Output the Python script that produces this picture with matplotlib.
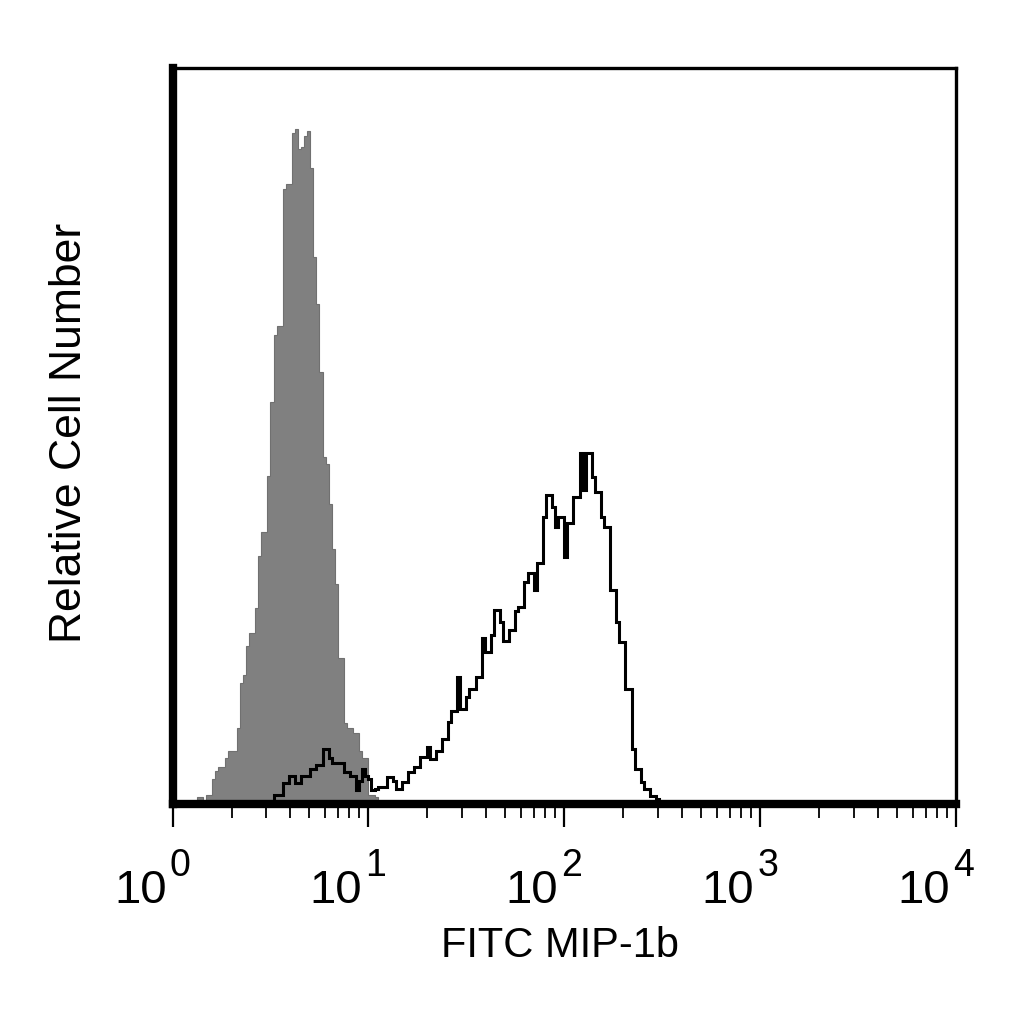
import numpy as np
import matplotlib
matplotlib.use("Agg")
import matplotlib.pyplot as plt
import matplotlib.transforms as mtransforms

# histogram data, 256 log channels over 10^0 .. 10^4
n_channels = 256
decades = 4

# isotype control (grey filled), first channel index 8
grey_start = 8
grey_counts = [0.9, 0.9, 0.0, 1.2, 1.2, 3.4, 4.5, 5.0, 5.0, 6.2,
               7.2, 7.2, 7.2, 10.3, 16.5, 17.5, 21.5, 23.2, 23.2, 26.6,
               33.7, 36.9, 36.9, 44.6, 54.6, 63.7, 64.9, 64.9, 83.6, 84.3,
               84.3, 91.2, 91.7, 89.0, 89.3, 90.8, 91.5, 86.4, 74.3, 68.0,
               58.7, 47.2, 46.2, 40.7, 34.7, 29.9, 19.9, 19.9, 11.0, 10.3,
               10.3, 9.6, 9.6, 7.2, 6.2, 6.2, 1.2, 1.2, 0.9]

# MIP-1b stained (black outline), first channel index 32
black_start = 32
black_counts = [0.3, 1.2, 1.2, 1.2, 2.8, 2.8, 3.8, 3.8, 2.8, 2.8,
                3.8, 3.8, 3.8, 4.7, 4.7, 5.3, 5.3, 7.5, 7.5, 6.2,
                5.6, 5.6, 5.6, 5.6, 4.3, 4.3, 3.8, 3.8, 1.9, 3.1,
                4.7, 3.8, 3.4, 1.9, 2.0, 2.3, 2.3, 2.3, 3.7, 3.7,
                3.1, 2.0, 2.0, 3.0, 3.0, 4.3, 4.3, 5.1, 5.1, 6.4,
                6.4, 7.7, 6.1, 6.1, 7.2, 7.2, 8.8, 8.8, 11.2, 12.6,
                12.6, 17.3, 12.9, 12.9, 14.6, 15.6, 15.6, 17.3, 17.3, 22.6,
                20.6, 20.6, 23.0, 26.4, 26.4, 24.7, 22.1, 22.1, 23.7, 23.7,
                26.2, 26.8, 26.8, 30.2, 31.4, 31.4, 29.1, 32.8, 32.8, 39.0,
                42.0, 42.0, 40.4, 37.7, 39.0, 39.0, 33.5, 38.2, 38.2, 41.7,
                41.7, 47.7, 42.7, 47.7, 47.7, 44.4, 42.4, 42.4, 39.0, 37.7,
                37.7, 29.1, 29.1, 24.7, 22.0, 22.0, 15.6, 15.6, 7.5, 4.7,
                4.7, 3.0, 2.0, 2.0, 1.1, 1.1, 0.7]

xlabel = "FITC MIP-1b"
ylabel = "Relative Cell Number"
decade_exps = [0, 1, 2, 3, 4]

edges = 10 ** (np.arange(n_channels + 1) * decades / n_channels)
g_edges = edges[grey_start:grey_start + len(grey_counts) + 1]
b_edges = edges[black_start:black_start + len(black_counts) + 1]

plt.rcParams['font.family'] = ['Liberation Sans', 'DejaVu Sans']

fig = plt.figure(figsize=(10.24, 10.24), dpi=100)
ax = fig.add_axes([0.1685, 0.2148, 0.9336 - 0.1685, 0.9336 - 0.2148])

ax.stairs(grey_counts, g_edges, fill=True, facecolor='#808080',
          edgecolor='#707070', lw=0.8, zorder=1)
ax.stairs(black_counts, b_edges, color='black', lw=2.2, zorder=2)

ax.set_xscale('log')
ax.set_xlim(1, 1e4)
ax.set_ylim(0, 100)
ax.set_yticks([])

for side in ['left', 'bottom']:
    ax.spines[side].set_linewidth(6)
for side in ['top', 'right']:
    ax.spines[side].set_linewidth(2.4)
for s in ax.spines.values():
    s.set_zorder(5)

ax.set_xticks([10.0 ** e for e in decade_exps])
ax.xaxis.set_minor_locator(matplotlib.ticker.LogLocator(base=10, subs=np.arange(2, 10)))
ax.tick_params(axis='x', which='major', direction='out', length=16.5, width=1.6,
               labelbottom=False)
ax.tick_params(axis='x', which='minor', direction='out', length=10, width=1.3,
               labelbottom=False)

# decade labels: "10" plus superscript exponent
trans = mtransforms.blended_transform_factory(ax.transData, fig.transFigure)
for e in decade_exps:
    base_tr = trans + mtransforms.ScaledTranslation(-6 / 100, 0, fig.dpi_scale_trans)
    exp_tr = trans + mtransforms.ScaledTranslation(-3 / 100, 0, fig.dpi_scale_trans)
    fig.text(10.0 ** e, 1 - 903 / 1024, "10", fontsize=34, ha='right',
             va='baseline', transform=base_tr)
    fig.text(10.0 ** e, 1 - 876 / 1024, str(e), fontsize=27, ha='left',
             va='baseline', transform=exp_tr)

fig.text(560 / 1024, 1 - 957 / 1024, xlabel, fontsize=30, ha='center', va='baseline')
fig.text(70 / 1024, 1 - 433 / 1024, ylabel, fontsize=32, rotation=90,
         ha='center', va='center')

fig.savefig('out.png', dpi=100, facecolor='white')
